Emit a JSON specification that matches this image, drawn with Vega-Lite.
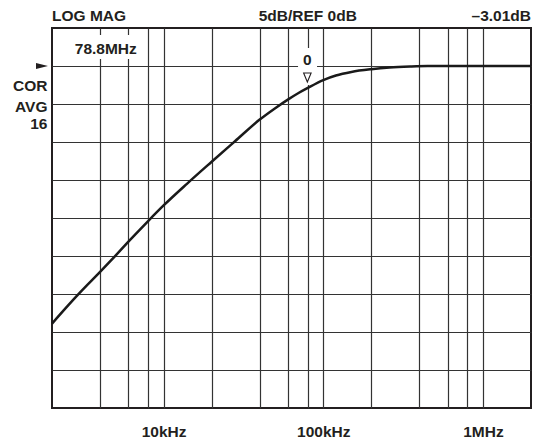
{
  "$schema": "https://vega.github.io/schema/vega-lite/v6.json",
  "width": 479,
  "height": 380,
  "autosize": "none",
  "padding": {"left": 52, "top": 28, "right": 3, "bottom": 33},
  "background": "white",
  "view": {"stroke": "#231f20", "strokeWidth": 2},
  "config": {
    "font": "Liberation Sans",
    "text": {"font": "Liberation Sans", "fontWeight": "bold", "fontSize": 15.5, "color": "#231f20", "baseline": "alphabetic"}
  },
  "datasets": {
    "curve": [
      {"f": 2000, "db": -33.9},
      {"f": 2500, "db": -31.6},
      {"f": 3000, "db": -29.8},
      {"f": 4000, "db": -27.1},
      {"f": 5000, "db": -24.95},
      {"f": 6000, "db": -23.15},
      {"f": 8000, "db": -20.4},
      {"f": 10000, "db": -18.35},
      {"f": 14000, "db": -15.5},
      {"f": 20000, "db": -12.6},
      {"f": 28000, "db": -9.9},
      {"f": 40000, "db": -7.05},
      {"f": 50000, "db": -5.55},
      {"f": 60000, "db": -4.42},
      {"f": 70000, "db": -3.55},
      {"f": 80000, "db": -2.88},
      {"f": 100000, "db": -1.85},
      {"f": 120000, "db": -1.25},
      {"f": 150000, "db": -0.78},
      {"f": 200000, "db": -0.42},
      {"f": 260000, "db": -0.2},
      {"f": 350000, "db": -0.07},
      {"f": 450000, "db": -0.01},
      {"f": 1000000, "db": 0},
      {"f": 2000000, "db": 0}
    ],
    "boxes": [
      {"f": 2630, "f2": 7110, "db": 4.08, "db2": 0.92},
      {"f": 69500, "f2": 91400, "db": 2.37, "db2": -2.5}
    ],
    "centerText": [
      {"f": 80000, "db": 5.88, "text": "5dB/REF 0dB"},
      {"f": 4345, "db": 1.54, "text": "78.8MHz"},
      {"f": 79500, "db": 0.1, "text": "0"}
    ],
    "leftText": [
      {"f": 2000, "db": 5.88, "text": "LOG MAG"}
    ],
    "rightText": [
      {"f": 2000000, "db": 5.88, "text": "–3.01dB"},
      {"f": 1874, "db": -3.29, "text": "COR"},
      {"f": 1874, "db": -6.09, "text": "AVG"},
      {"f": 1874, "db": -8.29, "text": "16"}
    ],
    "refArrow": [{"f": 1732, "db": 0}],
    "marker": [{"f": 79500, "db": -1.51}]
  },
  "encoding": {
    "x": {
      "field": "f",
      "type": "quantitative",
      "scale": {"type": "log", "domain": [2000, 2000000], "nice": false, "zero": false},
      "axis": {
        "title": null,
        "values": [4000, 6000, 8000, 10000, 20000, 40000, 60000, 80000, 100000, 200000, 400000, 600000, 800000, 1000000],
        "labelExpr": "datum.value == 10000 ? '10kHz' : datum.value == 100000 ? '100kHz' : datum.value == 1000000 ? '1MHz' : ''",
        "ticks": false,
        "tickSize": 0,
        "domain": false,
        "grid": true,
        "gridColor": "#333333",
        "gridWidth": 1.2,
        "gridOpacity": 1,
        "labelFont": "Liberation Sans",
        "labelFontWeight": "bold",
        "labelFontSize": 15.5,
        "labelColor": "#231f20",
        "labelBaseline": "alphabetic",
        "labelPadding": 28,
        "labelOverlap": false,
        "labelFlush": false
      }
    },
    "y": {
      "field": "db",
      "type": "quantitative",
      "scale": {"domain": [-45, 5], "nice": false, "zero": false},
      "axis": {
        "title": null,
        "values": [-40, -35, -30, -25, -20, -15, -10, -5, 0],
        "labels": false,
        "ticks": false,
        "tickSize": 0,
        "domain": false,
        "grid": true,
        "gridColor": "#333333",
        "gridWidth": 1.2,
        "gridOpacity": 1
      }
    }
  },
  "layer": [
    {
      "data": {"name": "boxes"},
      "mark": {"type": "rect", "color": "white", "strokeWidth": 0},
      "encoding": {"x2": {"field": "f2"}, "y2": {"field": "db2"}}
    },
    {
      "data": {"name": "curve"},
      "mark": {"type": "line", "color": "#1a1a1a", "strokeWidth": 2.5, "interpolate": "monotone"}
    },
    {
      "data": {"name": "centerText"},
      "mark": {"type": "text", "align": "center"},
      "encoding": {"text": {"field": "text"}}
    },
    {
      "data": {"name": "leftText"},
      "mark": {"type": "text", "align": "left"},
      "encoding": {"text": {"field": "text"}}
    },
    {
      "data": {"name": "rightText"},
      "mark": {"type": "text", "align": "right"},
      "encoding": {"text": {"field": "text"}}
    },
    {
      "data": {"name": "refArrow"},
      "mark": {"type": "point", "shape": "M-1,-0.5L1,0L-1,0.5Z", "size": 144, "filled": true, "color": "#231f20", "opacity": 1}
    },
    {
      "data": {"name": "marker"},
      "mark": {"type": "point", "shape": "M-1,-1.2L1,-1.2L0,1.2Z", "size": 56, "filled": false, "color": "#231f20", "strokeWidth": 1.1, "opacity": 1}
    }
  ]
}
